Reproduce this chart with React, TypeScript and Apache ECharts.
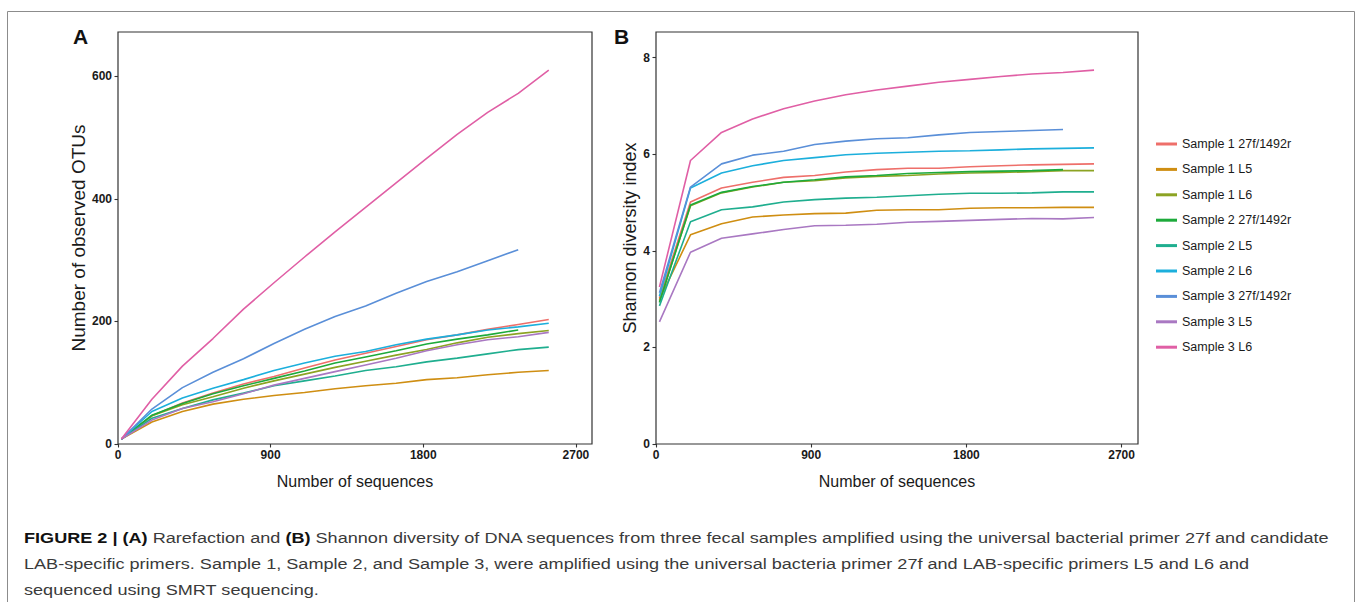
import React, { useEffect, useRef } from "react";
import * as echarts from "echarts";

const FONT = '"Liberation Sans", Arial, Helvetica, sans-serif';

const SEQS = [20, 200, 380, 560, 740, 920, 1100, 1280, 1460, 1640, 1820, 2000, 2180, 2360, 2540];

const NAMES = [
  "Sample 1 27f/1492r",
  "Sample 1 L5",
  "Sample 1 L6",
  "Sample 2 27f/1492r",
  "Sample 2 L5",
  "Sample 2 L6",
  "Sample 3 27f/1492r",
  "Sample 3 L5",
  "Sample 3 L6",
];

const COLORS = ["#EE6F6A", "#CF8E12", "#8CA323", "#1DAA3B", "#1FAE8F", "#1CAFDC", "#5A8FD8", "#A978C2", "#E05FA5"];

// Panel A: observed OTUs
const otuS1_27f = [8, 46, 67, 83, 98, 110, 124, 137, 148, 159, 170, 178, 187, 195, 203];
const otuS1_L5 = [8, 36, 53, 65, 73, 79, 84, 90, 95, 99, 105, 108, 113, 117, 120];
const otuS1_L6 = [8, 46, 64, 77, 91, 103, 114, 125, 135, 145, 154, 165, 174, 180, 185];
const otuS2_27f = [8, 47, 66, 82, 95, 107, 119, 132, 142, 152, 163, 171, 178, 186];
const otuS2_L5 = [8, 42, 58, 72, 83, 95, 103, 111, 120, 126, 134, 140, 147, 154, 158];
const otuS2_L6 = [8, 53, 75, 91, 105, 120, 132, 143, 151, 162, 171, 178, 186, 191, 197];
const otuS3_27f = [8, 57, 92, 117, 139, 164, 187, 208, 225, 246, 265, 281, 299, 317];
const otuS3_L5 = [8, 39, 58, 69, 82, 96, 107, 118, 129, 140, 152, 162, 170, 175, 182];
const otuS3_L6 = [8, 73, 127, 172, 220, 263, 305, 346, 386, 426, 466, 505, 541, 572, 610];

// Panel B: Shannon diversity
const shS1_27f = [3.02, 5.01, 5.3, 5.42, 5.52, 5.56, 5.63, 5.68, 5.71, 5.71, 5.74, 5.76, 5.78, 5.79, 5.8];
const shS1_L5 = [2.99, 4.33, 4.56, 4.7, 4.74, 4.77, 4.78, 4.84, 4.85, 4.85, 4.88, 4.89, 4.89, 4.9, 4.9];
const shS1_L6 = [2.95, 4.93, 5.2, 5.32, 5.42, 5.45, 5.51, 5.54, 5.56, 5.59, 5.61, 5.62, 5.64, 5.66, 5.66];
const shS2_27f = [2.93, 4.95, 5.21, 5.33, 5.42, 5.47, 5.53, 5.56, 5.6, 5.62, 5.64, 5.65, 5.66, 5.68];
const shS2_L5 = [2.86, 4.6, 4.85, 4.91, 5.01, 5.06, 5.09, 5.11, 5.14, 5.17, 5.19, 5.19, 5.2, 5.22, 5.22];
const shS2_L6 = [3.06, 5.3, 5.61, 5.76, 5.87, 5.93, 5.99, 6.02, 6.04, 6.06, 6.07, 6.09, 6.11, 6.12, 6.13];
const shS3_27f = [3.13, 5.32, 5.8, 5.98, 6.06, 6.2, 6.27, 6.32, 6.34, 6.4, 6.45, 6.47, 6.49, 6.51];
const shS3_L5 = [2.53, 3.97, 4.26, 4.35, 4.44, 4.52, 4.53, 4.55, 4.59, 4.61, 4.63, 4.65, 4.67, 4.66, 4.69];
const shS3_L6 = [3.25, 5.87, 6.45, 6.73, 6.94, 7.1, 7.23, 7.33, 7.41, 7.49, 7.55, 7.61, 7.66, 7.69, 7.74];

const OTU = [otuS1_27f, otuS1_L5, otuS1_L6, otuS2_27f, otuS2_L5, otuS2_L6, otuS3_27f, otuS3_L5, otuS3_L6];
const SHANNON = [shS1_27f, shS1_L5, shS1_L6, shS2_27f, shS2_L5, shS2_L6, shS3_27f, shS3_L5, shS3_L6];

const X_TICKS = [0, 900, 1800, 2700];
const OTU_TICKS = [0, 200, 400, 600];
const SH_TICKS = [0, 2, 4, 6, 8];

const CAPTION_1_BOLD_A = "FIGURE 2 | (A)";
const CAPTION_1_MID = " Rarefaction and ";
const CAPTION_1_BOLD_B = "(B)";
const CAPTION_1_END =
  " Shannon diversity of DNA sequences from three fecal samples amplified using the universal bacterial primer 27f and candidate";
const CAPTION_2 =
  "LAB-specific primers. Sample 1, Sample 2, and Sample 3, were amplified using the universal bacteria primer 27f and LAB-specific primers L5 and L6 and";
const CAPTION_3 = "sequenced using SMRT sequencing.";

function measure(text: string, font: string): number {
  const c = document.createElement("canvas").getContext("2d");
  if (!c) return text.length * 7;
  c.font = font;
  return c.measureText(text).width;
}

export default function App() {
  const ref = useRef<HTMLDivElement>(null);

  useEffect(() => {
    if (!ref.current) return;
    const chart = echarts.init(ref.current, undefined, { renderer: "svg" });

    const capFs = 15;
    const w1 =
      measure(CAPTION_1_BOLD_A, `bold ${capFs}px ${FONT}`) +
      measure(CAPTION_1_MID, `${capFs}px ${FONT}`) +
      measure(CAPTION_1_BOLD_B, `bold ${capFs}px ${FONT}`) +
      measure(CAPTION_1_END, `${capFs}px ${FONT}`);
    const capScale = 1306 / w1;

    const plain = (v: number) => String(v);

    const axisCommon = {
      axisLine: { show: false },
      splitLine: { show: false },
      axisTick: { show: true, length: 3.5, inside: false, lineStyle: { color: "#333", width: 1.1 } },
    };

    const xAxis = [0, 1].map((i) => ({
      type: "value",
      gridIndex: i,
      min: 0,
      max: 2795,
      ...axisCommon,
      axisTick: { ...axisCommon.axisTick, customValues: X_TICKS },
      axisLabel: {
        customValues: X_TICKS,
        formatter: plain,
        fontSize: 12,
        fontWeight: "bold",
        color: "#1a1a1a",
        fontFamily: FONT,
        margin: 5,
      },
      name: "Number of sequences",
      nameLocation: "middle",
      nameGap: 37,
      nameTextStyle: { fontSize: 16, color: "#1a1a1a", fontFamily: FONT, verticalAlign: "middle" },
    }));

    const yAxis = [
      {
        type: "value",
        gridIndex: 0,
        min: 0,
        max: 672,
        ...axisCommon,
        axisTick: { ...axisCommon.axisTick, customValues: OTU_TICKS },
        axisLabel: {
          customValues: OTU_TICKS,
          formatter: plain,
          fontSize: 12,
          fontWeight: "bold",
          color: "#1a1a1a",
          fontFamily: FONT,
          margin: 6,
        },
        name: "Number of observed OTUs",
        nameLocation: "middle",
        nameGap: 37,
        nameTextStyle: { fontSize: 19, color: "#1a1a1a", fontFamily: FONT, verticalAlign: "middle" },
      },
      {
        type: "value",
        gridIndex: 1,
        min: 0,
        max: 8.53,
        ...axisCommon,
        axisTick: { ...axisCommon.axisTick, customValues: SH_TICKS },
        axisLabel: {
          customValues: SH_TICKS,
          formatter: plain,
          fontSize: 12,
          fontWeight: "bold",
          color: "#1a1a1a",
          fontFamily: FONT,
          margin: 6,
        },
        name: "Shannon diversity index",
        nameLocation: "middle",
        nameGap: 26,
        nameTextStyle: { fontSize: 18, color: "#1a1a1a", fontFamily: FONT, verticalAlign: "middle" },
      },
    ];

    const series: any[] = [];
    const addPanel = (sets: number[][], idx: number) => {
      sets.forEach((vals, k) => {
        series.push({
          type: "line",
          name: NAMES[k],
          xAxisIndex: idx,
          yAxisIndex: idx,
          data: vals.map((v, i) => [SEQS[i], v]),
          showSymbol: false,
          symbol: "none",
          silent: true,
          z: 2 + k * 0.01,
          lineStyle: { width: 1.6, color: COLORS[k] },
          itemStyle: { color: COLORS[k] },
        });
      });
    };
    addPanel(OTU, 0);
    addPanel(SHANNON, 1);

    const option: any = {
      animation: false,
      textStyle: { fontFamily: FONT },
      grid: [
        { left: 118, top: 32, width: 474, height: 412, show: true, borderColor: "#333", borderWidth: 1.2, backgroundColor: "transparent" },
        { left: 656, top: 32, width: 482, height: 412, show: true, borderColor: "#333", borderWidth: 1.2, backgroundColor: "transparent" },
      ],
      xAxis,
      yAxis,
      legend: {
        data: NAMES,
        orient: "vertical",
        left: 1151,
        top: 132,
        icon: "rect",
        itemWidth: 21,
        itemHeight: 3,
        itemGap: 11.4,
        selectedMode: false,
        textStyle: { fontSize: 12.5, color: "#1a1a1a", fontFamily: FONT, lineHeight: 14 },
      },
      series,
      graphic: [
        {
          type: "rect",
          shape: { x: 7.5, y: 11.5, width: 1347, height: 620 },
          style: { fill: "none", stroke: "#8c8c8c", lineWidth: 1 },
          silent: true,
        },
        {
          type: "text",
          x: 73,
          y: 26,
          style: { text: "A", fontSize: 21, fontWeight: "bold", fill: "#111", fontFamily: FONT },
        },
        {
          type: "text",
          x: 614,
          y: 26,
          style: { text: "B", fontSize: 21, fontWeight: "bold", fill: "#111", fontFamily: FONT },
        },
        {
          type: "text",
          x: 24,
          y: 538,
          scaleX: capScale,
          style: {
            text: `{b|${CAPTION_1_BOLD_A}}${CAPTION_1_MID}{b|${CAPTION_1_BOLD_B}}${CAPTION_1_END}`,
            fontSize: capFs,
            fill: "#3a3a3a",
            fontFamily: FONT,
            verticalAlign: "middle",
            rich: { b: { fontWeight: "bold", fill: "#111", fontSize: capFs, fontFamily: FONT } },
          },
        },
        {
          type: "text",
          x: 24,
          y: 564,
          scaleX: capScale,
          style: { text: CAPTION_2, fontSize: capFs, fill: "#3a3a3a", fontFamily: FONT, verticalAlign: "middle" },
        },
        {
          type: "text",
          x: 24,
          y: 590,
          scaleX: capScale,
          style: { text: CAPTION_3, fontSize: capFs, fill: "#3a3a3a", fontFamily: FONT, verticalAlign: "middle" },
        },
      ],
    };

    chart.setOption(option);
    return () => chart.dispose();
  }, []);

  return (
    <div
      ref={ref}
      style={{ position: "absolute", left: 0, top: 0, width: 1357, height: 602, background: "#fff" }}
    />
  );
}
